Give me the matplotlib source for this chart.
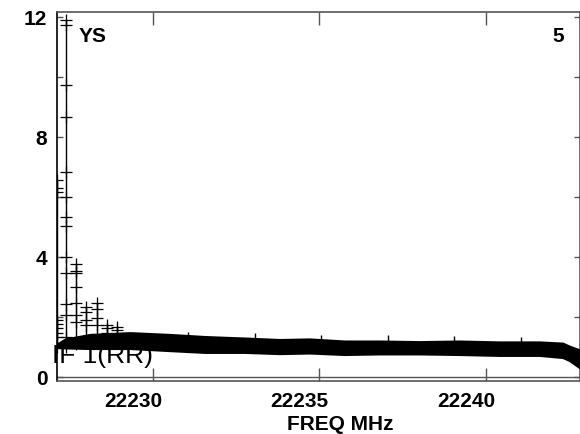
import numpy as np
import matplotlib
matplotlib.use('Agg')
import matplotlib.pyplot as plt
from matplotlib.transforms import ScaledTranslation

plt.rcParams['font.family'] = ['Liberation Sans', 'DejaVu Sans']

#band envelope (MHz, lower, upper)
band_freq = [22227.12, 22227.37, 22228.11, 22229.31, 22230.50, 22231.56, 22232.75,
             22233.80, 22234.70, 22235.75, 22236.80, 22238.00, 22239.20, 22240.40,
             22241.60, 22242.30, 22242.50, 22242.82]
band_lo = [0.98, 0.97, 0.95, 0.95, 0.88, 0.82, 0.82, 0.78, 0.80, 0.75, 0.77, 0.77,
           0.75, 0.72, 0.72, 0.65, 0.55, 0.30]
band_hi = [1.10, 1.27, 1.42, 1.48, 1.42, 1.35, 1.30, 1.25, 1.27, 1.20, 1.20, 1.18,
           1.20, 1.17, 1.17, 1.13, 1.03, 0.90]

#small spikes on top of the band
spike_freq = [22231.05, 22233.05, 22235.05, 22237.05, 22239.05, 22241.05]
spike_top = [1.50, 1.47, 1.40, 1.40, 1.37, 1.33]

#channels with outliers near the band start
col_freq = [22227.12, 22227.39, 22227.69, 22227.99, 22228.32, 22228.62, 22228.92]
col_vals = [
    [6.57, 6.30, 6.17, 1.90, 1.77, 1.63, 1.47, 1.33, 1.00],
    [11.90, 11.73, 9.73, 8.67, 6.83, 6.00, 5.33, 5.03, 4.00, 3.47, 2.43, 2.07, 1.33, 1.00],
    [3.77, 3.53, 3.47, 3.00, 2.47, 2.07, 1.83, 1.10],
    [2.33, 2.17, 1.90, 1.73, 1.20],
    [2.47, 2.27, 1.97, 1.73, 1.20],
    [1.73, 1.63, 1.47, 1.20],
    [1.67, 1.57, 1.25],
]

xticks = [22230, 22235, 22240]
yticks = [0, 4, 8, 12]
yminor = [2, 6, 10]

fig = plt.figure(figsize=(5.8, 4.34), dpi=100)
ax = fig.add_axes([57/580, 1-381/434, (580-57)/580, (381-12)/434])

fig.text(52/580, 1-363/434, 'IF 1(RR)', fontsize=19, ha='left', va='baseline',
         zorder=0.5)
ax.set_zorder(1)
ax.patch.set_alpha(0)

ax.axhline(0, color='#555555', lw=1.0, zorder=2)
ax.fill_between(band_freq, band_lo, band_hi, color='black', lw=1.5,
                edgecolor='black', zorder=3)
ax.vlines(spike_freq, 1.1, spike_top, color='black', lw=1.0, zorder=3)
for f, vals in zip(col_freq, col_vals):
    ax.plot([f]*len(vals), vals, color='black', lw=1.0, marker='+',
            markersize=9, markeredgewidth=0.9, zorder=4)

ax.set_xlim(22227.12, 22242.82)
ax.set_ylim(-0.133, 12.17)
ax.set_xticks(xticks)
ax.set_xticklabels([str(t) for t in xticks])
ax.set_yticks(yticks)
ax.set_yticks(yminor, minor=True)
ax.tick_params(axis='x', direction='in', length=9.5, width=1, color='#555555',
               top=True, labelsize=15, pad=8)
ax.tick_params(axis='y', which='both', direction='in', length=4.5, width=1,
               color='#555555', right=True, labelsize=15, pad=7)
for lab in ax.get_xticklabels() + ax.get_yticklabels():
    lab.set_fontweight('bold')
for lab in ax.get_xticklabels():
    lab.set_transform(lab.get_transform() + ScaledTranslation(-0.2, 0, fig.dpi_scale_trans))

for s in ['top', 'bottom', 'right']:
    ax.spines[s].set_color('#555555')
    ax.spines[s].set_linewidth(1.2)
ax.spines['left'].set_color('black')
ax.spines['left'].set_linewidth(1.2)

fig.text(79/580, 1-37/434, 'YS', fontsize=15, fontweight='bold',
         ha='left', va='center')
fig.text(564/580, 1-37/434, '5', fontsize=15, fontweight='bold',
         ha='right', va='center')
fig.text(340/580, 1-424/434, 'FREQ MHz', fontsize=15, fontweight='bold',
         ha='center', va='center')

plt.savefig('out.png', dpi=100)
